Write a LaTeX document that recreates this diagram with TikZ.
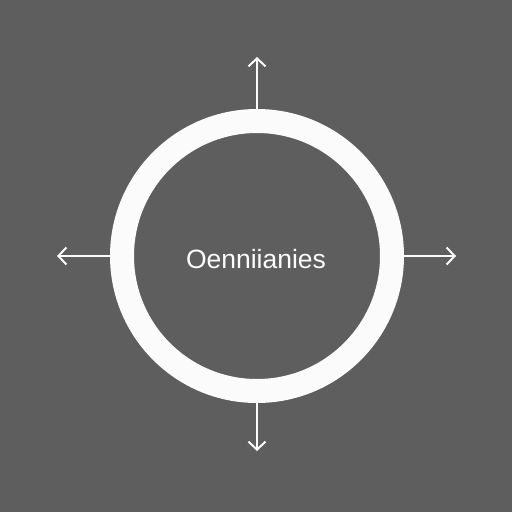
\documentclass[tikz,border=0pt]{standalone}
\usepackage{fontspec}
\setmainfont{Liberation Sans}
\usepackage{xcolor}
\usepackage{tikz}
\usetikzlibrary{positioning,arrows.meta,calc}
\definecolor{bggray}{HTML}{5E5E5E}
\definecolor{ringwhite}{HTML}{FBFBFB}
\tikzset{
ring/.style={
circle,
draw=ringwhite,
line width=24pt,
minimum size=270pt,
outer sep=12pt
},
lbl/.style={
text=ringwhite,
font=\fontsize{26.5}{30}\selectfont,
inner sep=0pt
},
arrow/.style={
-{Straight Barb[length=8pt,width=17pt]},
draw=ringwhite,
line width=2pt
}
}

\begin{document}
\begin{tikzpicture}[x=1pt,y=-1pt]
\fill[bggray](0,0)rectangle(512,512);
\useasboundingbox(0,0)rectangle(512,512);
\node[ring](c) at (257,256){};
\node[lbl](t) at (256,259){Oenniianies};
\coordinate(n) at (257,57);
\coordinate(s) at (257,451);
\coordinate(w) at (57,256);
\coordinate(e) at (456,256);

\foreach \x/\y in {c.north/n,c.south/s,c.west/w,c.east/e}
\draw[arrow](\x)--(\y);
\end{tikzpicture}
\end{document}
